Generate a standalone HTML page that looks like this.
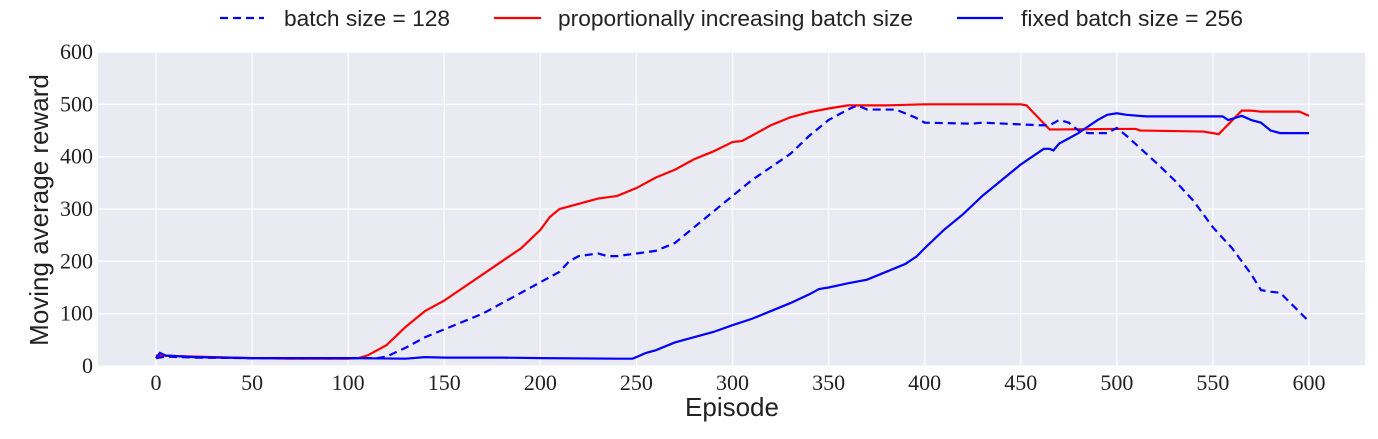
<!DOCTYPE html>
<html><head><meta charset="utf-8"><style>
body{margin:0;background:#fff;}
svg text{fill:#222;}
.tick{font-family:"Liberation Serif",serif;font-size:22px;}
.lab{font-family:"Liberation Sans",sans-serif;font-size:26px;}
.leg{font-family:"Liberation Sans",sans-serif;font-size:22px;}
</style></head><body>
<svg id="chart" width="1378" height="434" xmlns="http://www.w3.org/2000/svg">
<rect x="98" y="52" width="1267" height="314" fill="#eaeaf2"/>
<g id="grid"></g><g id="series"></g><g id="ticks"></g>
<text class="lab" x="732" y="416" text-anchor="middle">Episode</text>
<text class="lab" transform="translate(48,210) rotate(-90)" text-anchor="middle">Moving average reward</text>
<g>
<line x1="220" y1="18" x2="264" y2="18" stroke="#0000ff" stroke-width="2.2" stroke-dasharray="8,5"/>
<text class="leg" x="284" y="26" textLength="166" lengthAdjust="spacingAndGlyphs">batch size = 128</text>
<line x1="494" y1="18" x2="541" y2="18" stroke="#ff0000" stroke-width="2.2"/>
<text class="leg" x="558" y="26" textLength="355" lengthAdjust="spacingAndGlyphs">proportionally increasing batch size</text>
<line x1="957" y1="18" x2="1003" y2="18" stroke="#0000ff" stroke-width="2.2"/>
<text class="leg" x="1021" y="26" textLength="222" lengthAdjust="spacingAndGlyphs">fixed batch size = 256</text>
</g>
</svg>
<script>
const xTicks=[0,50,100,150,200,250,300,350,400,450,500,550,600];
const yTicks=[0,100,200,300,400,500,600];
const batch128X=[0,5,20,50,100,115,120,130,140,150,160,170,180,190,200,210,215,220,230,235,240,250,260,270,280,290,300,310,320,330,340,350,360,365,370,385,395,400,425,430,460,465,470,475,480,485,495,500,505,520,530,540,550,560,570,575,580,585,600];
const batch128Y=[15,18,16,15,15,15,18,35,55,70,85,100,120,140,160,180,200,210,215,210,210,215,220,235,265,295,325,355,380,405,440,470,490,498,490,490,475,465,463,465,460,460,470,465,450,445,445,455,440,390,355,315,265,225,175,145,142,140,85];
const propX=[0,20,50,70,100,105,110,120,130,140,150,160,170,180,190,200,205,210,215,220,225,230,240,250,260,270,280,290,300,305,310,320,330,340,350,360,380,400,450,453,465,470,500,510,512,545,550,553,565,570,575,595,600];
const propY=[20,18,15,14,14,15,20,40,75,105,125,150,175,200,225,260,285,300,305,310,315,320,325,340,360,375,395,410,428,430,440,460,475,485,492,498,498,500,500,498,452,452,453,453,450,448,445,443,488,488,486,486,478];
const fixedX=[0,2,5,20,50,100,130,140,150,180,200,240,248,255,260,270,280,290,300,310,320,330,340,345,350,360,370,380,390,396,400,410,420,430,440,450,460,462,465,467,470,475,480,490,495,500,505,515,555,558,565,570,575,580,585,600];
const fixedY=[15,25,20,17,15,15,14,17,16,16,15,14,14,25,30,45,55,65,78,90,105,120,137,147,150,158,165,180,195,210,225,260,290,325,355,385,410,415,415,412,425,435,445,470,480,483,480,477,477,470,478,470,465,450,445,445];
const NS="http://www.w3.org/2000/svg";
const sx=v=>156+v*(1309-156)/600;
const sy=v=>366-v*(366-52)/600;
const grid=document.getElementById('grid'),ticks=document.getElementById('ticks'),ser=document.getElementById('series');
xTicks.forEach(t=>{
 const l=document.createElementNS(NS,'line');
 
 
 l.setAttribute('x1',sx(t));l.setAttribute('x2',sx(t));l.setAttribute('y1',52);l.setAttribute('y2',366);
 l.setAttribute('stroke','#fff');l.setAttribute('stroke-width','1.2');grid.appendChild(l);
 const tx=document.createElementNS(NS,'text');
 
 
 tx.setAttribute('class','tick');tx.setAttribute('x',sx(t));tx.setAttribute('y',390);tx.setAttribute('text-anchor','middle');tx.textContent=t;ticks.appendChild(tx);
});
yTicks.forEach(t=>{
 const l=document.createElementNS(NS,'line');
 
 
 l.setAttribute('x1',98);l.setAttribute('x2',1365);l.setAttribute('y1',sy(t));l.setAttribute('y2',sy(t));
 l.setAttribute('stroke','#fff');l.setAttribute('stroke-width','1.2');grid.appendChild(l);
 const tx=document.createElementNS(NS,'text');
 
 
 tx.setAttribute('class','tick');tx.setAttribute('x',93);tx.setAttribute('y',sy(t)+7);tx.setAttribute('text-anchor','end');tx.textContent=t;ticks.appendChild(tx);
});
function line(xs,ys,color,dash,name){
 const p=document.createElementNS(NS,'polyline');
 
 
 p.setAttribute('points',xs.map((x,i)=>sx(x)+','+sy(ys[i])).join(' '));
 p.setAttribute('fill','none');p.setAttribute('stroke',color);p.setAttribute('stroke-width','2.2');
 if(dash)p.setAttribute('stroke-dasharray',dash);
 ser.appendChild(p);
}
line(propX,propY,'#ff0000',null,'series-proportional');
line(fixedX,fixedY,'#0000ff',null,'series-fixed-256');
line(batch128X,batch128Y,'#0000ff','8,5','series-batch-128');
</script>
</body></html>
